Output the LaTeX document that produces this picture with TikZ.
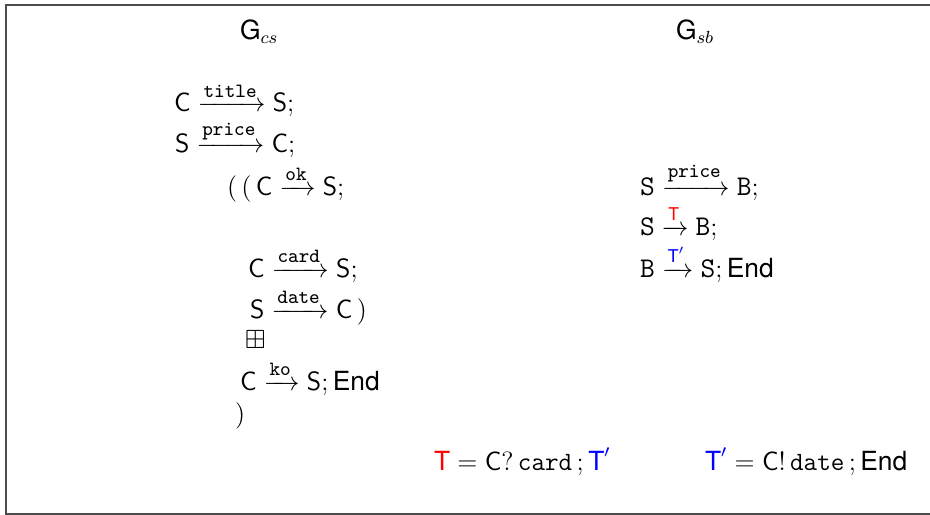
\documentclass[tikz,border=0pt]{standalone}
\usepackage{amsmath}
\usepackage{amssymb}
\usepackage{xcolor}
\usepackage{fontspec}
\newfontfamily\hv{TeX Gyre Heros}
\usetikzlibrary{positioning}
\newcommand{\hvt}[1]{\text{\hv #1}}
\newcommand{\lbl}[1]{\text{\fontsize{9.2}{10}\selectfont\ttfamily #1}}
\newcommand{\rl}[1]{\text{\fontsize{13}{15}\selectfont\ttfamily #1}}

\begin{document}
\begin{tikzpicture}[
  x=0.455pt, y=-0.455pt,
  font=\fontsize{12}{14}\selectfont,
  ln/.style={anchor=base west,inner sep=0pt,outer sep=0pt},
  hd/.style={ln,font=\fontsize{12}{14}\selectfont\hv},
]
  \useasboundingbox (0,0) rectangle (930,515);
  \draw[black!70,line width=0.9pt] (6,5) rectangle (940,514);

  % headings
  \node[hd] (gcs) at (240,40) {G$_{cs}$};
  \node[hd] (gsb) at (676,40) {G$_{sb}$};

  % left global type
  \node[ln] (cs1) at (174,112) {$\mathsf{C}\xrightarrow{\lbl{title}}\mathsf{S};$};
  \node[ln] (cs2) at (175,153) {$\mathsf{S}\xrightarrow{\lbl{price}}\mathsf{C};$};
  \node[ln] (cs3) at (227,195) {$(\,(\,\mathsf{C}\xrightarrow{\lbl{ok}}\mathsf{S};$};
  \node[ln] (cs4) at (248,277) {$\mathsf{C}\xrightarrow{\lbl{card}}\mathsf{S};$};
  \node[ln] (cs5) at (250,318) {$\mathsf{S}\xrightarrow{\lbl{date}}\mathsf{C}\,)$};
  \node[ln] (cs6) at (245,348) {$\boxplus$};
  \node[ln] (cs7) at (240,390) {$\mathsf{C}\xrightarrow{\lbl{ko}}\mathsf{S};$\,{\hv End}};
  \node[ln] (cs8) at (235,422) {$)$};

  % right global type
  \node[ln] (sb1) at (640,195) {$\rl{S}\xrightarrow{\lbl{price}}\rl{B};$};
  \node[ln] (sb2) at (640,235) {$\rl{S}\xrightarrow{\textcolor{red}{\hvt{T}}}\rl{B};$};
  \node[ln] (sb3) at (640,277) {$\rl{B}\xrightarrow{\textcolor{blue}{\hvt{T}'}}\rl{S};$\,{\hv End}};

  % type definitions
  \node[ln] (tdef) at (434,470) {$\textcolor{red}{\hvt{T}} = \mathsf{C}?\,\texttt{card}\,;\textcolor{blue}{\hvt{T}'}$};
  \node[ln] (tpdef) at (705,470) {$\textcolor{blue}{\hvt{T}'} = \mathsf{C}!\,\texttt{date}\,;$\,{\hv End}};
\end{tikzpicture}
\end{document}
